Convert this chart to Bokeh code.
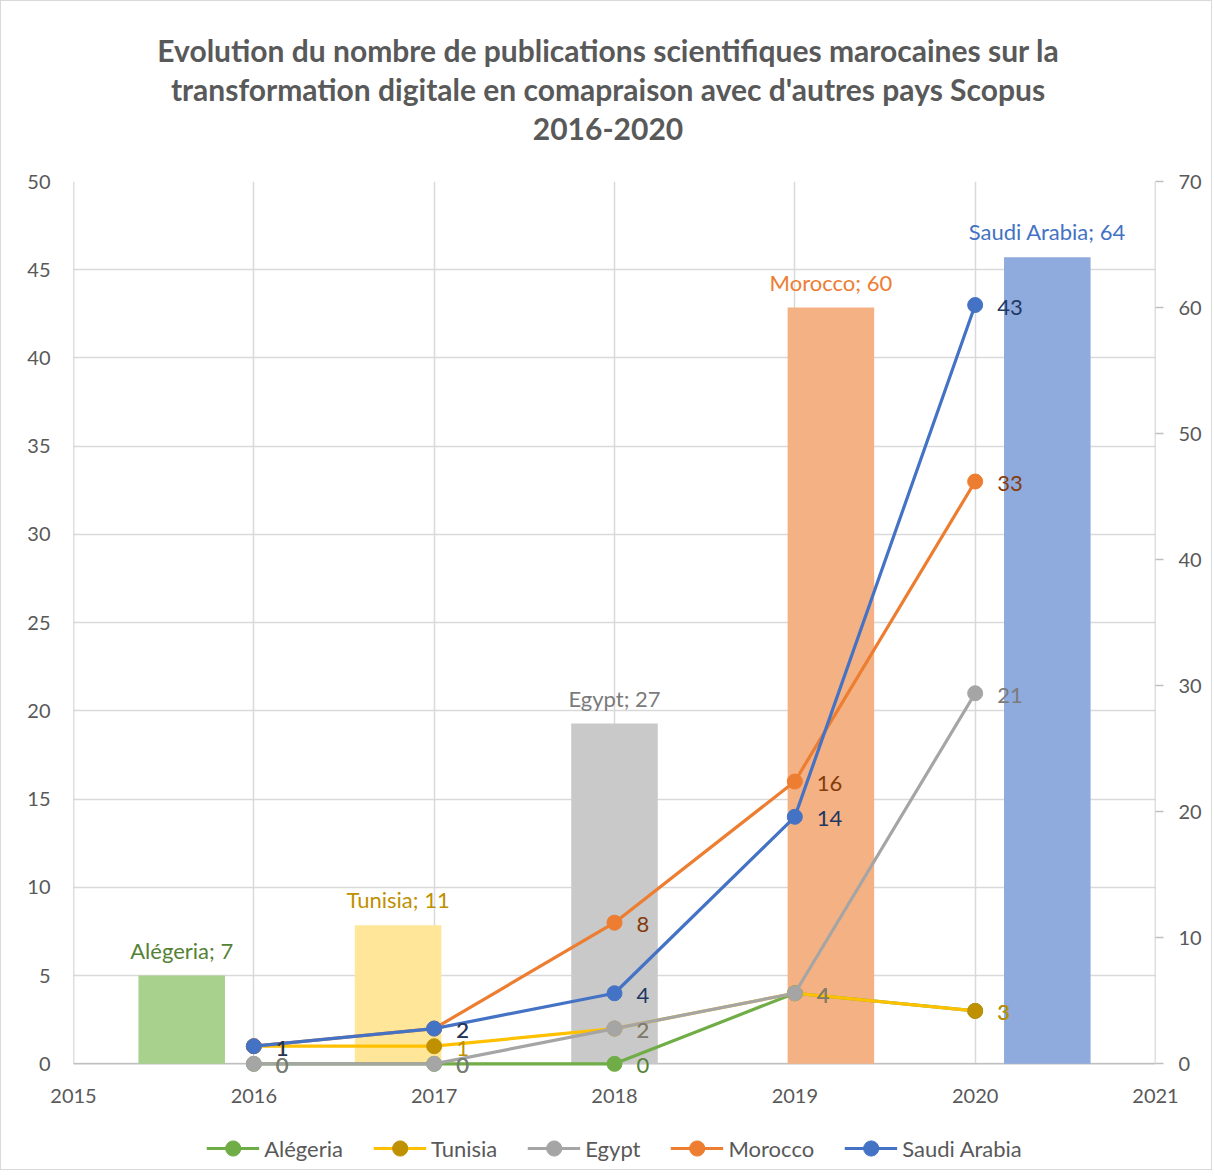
from bokeh.plotting import figure
from bokeh.models import Range1d, LinearAxis, FixedTicker, Legend, LegendItem, Div
from bokeh.layouts import column
from bokeh.embed import file_html
from bokeh.resources import INLINE
from bokeh.core.properties import value

# ---- data ----
years = [2016, 2017, 2018, 2019, 2020]
countries = ["Alégeria", "Tunisia", "Egypt", "Morocco", "Saudi Arabia"]
algeria = [0, 0, 0, 4, 3]
tunisia = [1, 1, 2, 4, 3]
egypt = [0, 0, 2, 4, 21]
morocco = [1, 2, 8, 16, 33]
saudi = [1, 2, 4, 14, 43]
totals = [7, 11, 27, 60, 64]
x_ticks = [2015, 2016, 2017, 2018, 2019, 2020, 2021]
left_ticks = [0, 5, 10, 15, 20, 25, 30, 35, 40, 45, 50]
right_ticks = [0, 10, 20, 30, 40, 50, 60, 70]
title_lines = [
    "Evolution du nombre de publications scientifiques marocaines sur la",
    "transformation digitale en comapraison avec d'autres pays Scopus",
    "2016-2020",
]

# ---- styles ----
line_colors = ["#70AD47", "#FFC000", "#A5A5A5", "#ED7D31", "#4472C4"]
marker_colors = ["#70AD47", "#BF9000", "#A5A5A5", "#ED7D31", "#4472C4"]
label_colors = ["#548235", "#BF9000", "#7B7B7B", "#843C0C", "#203864"]
bar_colors = ["#A9D18E", "#FFE699", "#C9C9C9", "#F4B183", "#8FAADC"]
bar_label_colors = ["#548235", "#BF9000", "#7B7B7B", "#ED7D31", "#4472C4"]
FONT = "Lato"
TXT = "#595959"
GRID = "#D9D9D9"
AXIS = "#BFBFBF"
W = 1210

LMAX, RMAX = left_ticks[-1], right_ticks[-1]
pad = 1.0  # room below zero (left-axis units) so labels at 0 are not clipped

p = figure(frame_width=1082, frame_height=900, x_range=Range1d(x_ticks[0], x_ticks[-1]),
           y_range=Range1d(-pad, LMAX), output_backend="svg", toolbar_location=None,
           min_border_left=72, min_border_right=56, min_border_top=14,
           min_border_bottom=46)
p.extra_y_ranges = {"bars": Range1d(-pad * RMAX / LMAX, RMAX)}
p.outline_line_color = None
p.background_fill_color = "white"
p.border_fill_color = "white"
p.title.visible = False

# axes
p.xaxis.ticker = FixedTicker(ticks=x_ticks)
p.yaxis.ticker = FixedTicker(ticks=left_ticks)
raxis = LinearAxis(y_range_name="bars", ticker=FixedTicker(ticks=right_ticks))
p.add_layout(raxis, "right")
for ax in [p.xaxis[0], p.yaxis[0], raxis]:
    ax.axis_line_color = None
    ax.major_label_text_font = FONT
    ax.major_label_text_font_size = "20px"
    ax.major_label_text_color = TXT
    ax.minor_tick_line_color = None
p.xaxis.major_tick_line_color = None
p.xaxis.major_label_standoff = 1
p.yaxis[0].major_tick_line_color = None
p.yaxis[0].major_label_standoff = 17
raxis.major_tick_line_color = AXIS
raxis.major_tick_line_width = 1.5
raxis.major_tick_out = 8
raxis.major_tick_in = 0
raxis.major_label_standoff = 15

p.xgrid.ticker = FixedTicker(ticks=x_ticks)
p.ygrid.ticker = FixedTicker(ticks=left_ticks)
p.xgrid.grid_line_color = GRID
p.ygrid.grid_line_color = GRID
p.xgrid.grid_line_width = 1.5
p.ygrid.grid_line_width = 1.5

# mask below zero, then the axis lines of the plot area
p.quad(left=x_ticks[0], right=x_ticks[-1], bottom=-pad, top=0,
       fill_color="white", line_color=None)
p.segment(x0=[x_ticks[0], x_ticks[0], x_ticks[-1]], y0=[0, 0, 0],
          x1=[x_ticks[-1], x_ticks[0], x_ticks[-1]], y1=[0, LMAX, LMAX],
          line_color=AXIS, line_width=1.5)

# bars (secondary axis, category slots across the plot)
n = len(countries)
span = x_ticks[-1] - x_ticks[0]
slot = span / n
bar_x = [x_ticks[0] + (i + 0.5) * slot for i in range(n)]
p.vbar(x=bar_x, top=totals, bottom=0, width=slot * 0.4, y_range_name="bars",
       fill_color=bar_colors, line_color=None)
p.text(x=bar_x, y=totals, text=[f"{c}; {t}" for c, t in zip(countries, totals)],
       y_range_name="bars", text_align="center", text_baseline="bottom", y_offset=-12,
       text_color=bar_label_colors, text_font=value(FONT), text_font_size="22px")

# lines
series = [algeria, tunisia, egypt, morocco, saudi]
for vals, lc, mc in zip(series, line_colors, marker_colors):
    p.line(years, vals, line_color=lc, line_width=3.2)
    p.scatter(years, vals, size=15, fill_color=mc, line_color=mc)

for vals, labc in zip(series, label_colors):
    p.text(x=years, y=vals, text=[str(v) for v in vals], x_offset=22, y_offset=2,
           text_align="left", text_baseline="middle", text_color=labc,
           text_font=value(FONT), text_font_size="22px")

# legend strip (own small figure so nothing is clipped); its series lie
# outside this strip's ranges, so only the legend entries show
pl = figure(width=W, height=42, x_range=Range1d(0, 1), y_range=Range1d(0, 1),
            output_backend="svg", toolbar_location=None, x_axis_location=None,
            y_axis_location=None, min_border_left=22, min_border_right=0,
            min_border_top=0, min_border_bottom=0)
pl.title.visible = False
pl.grid.visible = False
pl.outline_line_color = None
pl.background_fill_color = "white"
pl.border_fill_color = "white"
items = []
for name, vals, lc, mc in zip(countries, series, line_colors, marker_colors):
    rl = pl.line(x=years, y=vals, line_color=lc, line_width=3.2)
    rs = pl.scatter(x=years, y=vals, size=15, fill_color=mc, line_color=mc)
    items.append(LegendItem(label=name, renderers=[rl, rs]))
legend = Legend(items=items, orientation="horizontal", location="center",
                border_line_color=None, background_fill_alpha=0,
                label_text_font=FONT, label_text_font_size="22px",
                label_text_color=TXT, glyph_width=53, glyph_height=38,
                label_standoff=5, spacing=30, margin=0, padding=0)
pl.add_layout(legend, "center")

title_html = (
    "<div style='width:%dpx;text-align:center;font-family:Lato;font-weight:bold;"
    "font-size:30px;line-height:39px;color:%s;padding-top:30px;padding-left:4px;"
    "box-sizing:border-box'>%s</div>" % (W, TXT, "<br>".join(title_lines))
)
title_div = Div(text=title_html, width=W, height=166, margin=0)

layout = column(title_div, p, pl, spacing=0)
layout.styles = {"border": "1px solid #D9D9D9", "background-color": "white"}

open("out.html", "w").write(file_html(layout, INLINE))
